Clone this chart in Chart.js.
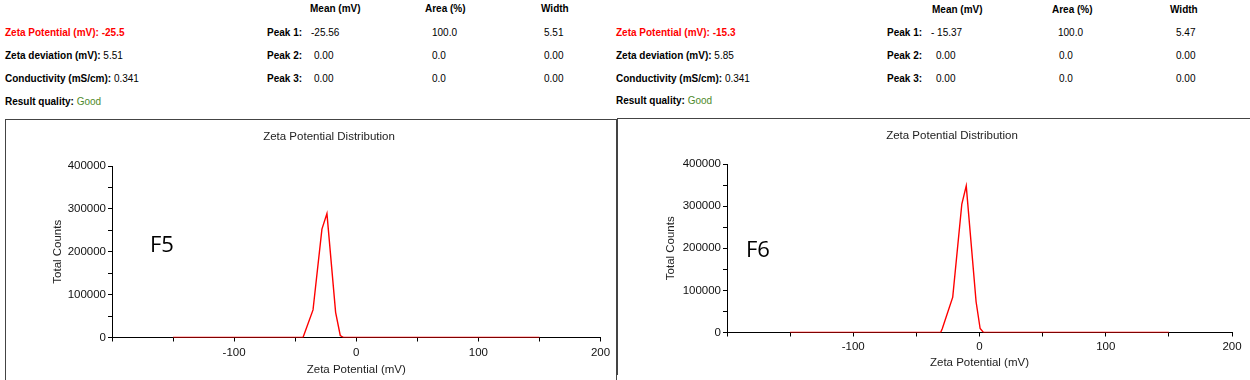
<!DOCTYPE html>
<html><head><meta charset="utf-8">
<script src="https://cdn.jsdelivr.net/npm/chart.js@4.4.1/dist/chart.umd.min.js"></script>
<style>
body{margin:0;width:1250px;height:380px;background:#fff;position:relative;overflow:hidden;font-family:"Liberation Sans",Arial,sans-serif;}
.t{position:absolute;font-size:10px;line-height:12px;white-space:nowrap;color:#000;transform:translateY(-50%);}
.b{font-weight:bold}
.red{color:#ff0000}
.good{color:#4f8a2b}
.panel{position:absolute;border-color:#444;border-style:solid;border-width:0;}
canvas{position:absolute}
.tag{position:absolute;font-family:"Open Sans",sans-serif;font-size:22px;color:#000;line-height:1;transform:translateY(-50%);}
</style></head>
<body>
<!-- left info block -->
<div class="t b" style="left:310px;top:9px">Mean (mV)</div>
<div class="t b" style="left:425px;top:9px">Area (%)</div>
<div class="t b" style="left:541px;top:9px">Width</div>
<div class="t b red" style="left:5px;top:33px">Zeta Potential (mV): -25.5</div>
<div class="t" style="left:5px;top:56px"><span class="b">Zeta deviation (mV):</span> 5.51</div>
<div class="t" style="left:5px;top:79px"><span class="b">Conductivity (mS/cm):</span> 0.341</div>
<div class="t" style="left:5px;top:102px"><span class="b">Result quality:</span> <span class="good">Good</span></div>
<div class="t b" style="left:267px;top:33px">Peak 1:</div>
<div class="t b" style="left:267px;top:56px">Peak 2:</div>
<div class="t b" style="left:267px;top:79px">Peak 3:</div>
<div class="t" style="left:311px;top:33px">-25.56</div>
<div class="t" style="left:314px;top:56px">0.00</div>
<div class="t" style="left:314px;top:79px">0.00</div>
<div class="t" style="left:432px;top:33px">100.0</div>
<div class="t" style="left:432px;top:56px">0.0</div>
<div class="t" style="left:432px;top:79px">0.0</div>
<div class="t" style="left:544px;top:33px">5.51</div>
<div class="t" style="left:544px;top:56px">0.00</div>
<div class="t" style="left:544px;top:79px">0.00</div>
<!-- right info block -->
<div class="t b" style="left:932px;top:10px">Mean (mV)</div>
<div class="t b" style="left:1052px;top:10px">Area (%)</div>
<div class="t b" style="left:1170px;top:10px">Width</div>
<div class="t b red" style="left:616px;top:33px">Zeta Potential (mV): -15.3</div>
<div class="t" style="left:616px;top:56px"><span class="b">Zeta deviation (mV):</span> 5.85</div>
<div class="t" style="left:616px;top:79px"><span class="b">Conductivity (mS/cm):</span> 0.341</div>
<div class="t" style="left:616px;top:101px"><span class="b">Result quality:</span> <span class="good">Good</span></div>
<div class="t b" style="left:887px;top:33px">Peak 1:</div>
<div class="t b" style="left:887px;top:56px">Peak 2:</div>
<div class="t b" style="left:887px;top:79px">Peak 3:</div>
<div class="t" style="left:931px;top:33px">- 15.37</div>
<div class="t" style="left:936px;top:56px">0.00</div>
<div class="t" style="left:936px;top:79px">0.00</div>
<div class="t" style="left:1058px;top:33px">100.0</div>
<div class="t" style="left:1059px;top:56px">0.0</div>
<div class="t" style="left:1059px;top:79px">0.0</div>
<div class="t" style="left:1176px;top:33px">5.47</div>
<div class="t" style="left:1176px;top:56px">0.00</div>
<div class="t" style="left:1176px;top:79px">0.00</div>

<div class="panel" style="left:5px;top:119px;width:610px;height:270px;border-top-width:1px;border-left-width:1px;border-right-width:1px;"></div>
<div class="panel" style="left:617px;top:118px;width:640px;height:256px;border-top-width:1px;border-left-width:1px;"></div>

<canvas id="c1" width="615" height="261" style="left:0;top:119px"></canvas>
<canvas id="c2" width="635" height="262" style="left:615px;top:118px"></canvas>

<div class="tag" style="left:150px;top:243px">F5</div>
<div class="tag" style="left:746px;top:248px">F6</div>

<script>
// ---- data ----
const f5Potential = [-150, -43.6, -35.4, -28.1, -24.0, -16.9, -13.1, -10.4, 150];
const f5Counts    = [0, 0, 64400, 252800, 289000, 58800, 4700, 0, 0];
const f6Potential = [-150, -30.8, -29.5, -21.2, -14.0, -10.5, -2.7, 0.5, 3.2, 150];
const f6Counts    = [0, 0, 9000, 84000, 305000, 348000, 73000, 9500, 0, 0];
const xTickLabels = [-100, 0, 100, 200];
const yTickLabels = [0, 100000, 200000, 300000, 400000];
const chartTitle = 'Zeta Potential Distribution';
const xTitle = 'Zeta Potential (mV)';
const yTitle = 'Total Counts';

const FONT = '"Liberation Sans", Arial, sans-serif';
const FS = 11.5;

const panelTitle = {
  id: 'panelTitle',
  afterDraw(chart, args, opts) {
    const ctx = chart.ctx;
    ctx.save();
    ctx.font = FS + 'px ' + FONT;
    ctx.fillStyle = '#222';
    ctx.textAlign = 'center';
    ctx.textBaseline = 'middle';
    ctx.fillText(opts.text, opts.x, opts.y);
    ctx.restore();
  }
};

function makeChart(id, xs, ys, g) {
  const pts = xs.map((x, i) => ({x: x, y: ys[i]}));
  return new Chart(document.getElementById(id), {
    type: 'line',
    data: {datasets: [{data: pts, borderColor: '#ff0000', borderWidth: 1.4, pointRadius: 0, tension: 0, fill: false}]},
    plugins: [panelTitle],
    options: {
      responsive: false, animation: false, devicePixelRatio: 1,
      layout: {padding: {left: 0, right: g.padRight, top: g.padTop, bottom: 0}},
      plugins: {
        legend: {display: false}, tooltip: {enabled: false}, title: {display: false},
        panelTitle: {text: chartTitle, x: g.titleX, y: g.titleY}
      },
      scales: {
        x: {
          type: 'linear', min: -200, max: 200,
          afterFit: s => { s.height = g.xHeight; },
          ticks: {stepSize: 50, autoSkip: false, maxRotation: 0, padding: g.xTickPad, color: '#111',
            font: {family: FONT, size: FS},
            callback: v => xTickLabels.includes(v) ? String(v) : ''},
          grid: {display: true, drawOnChartArea: false, drawTicks: true, tickLength: 4, color: '#000'},
          border: {display: true, color: '#000', width: 1},
          title: {display: true, text: xTitle, color: '#222', font: {family: FONT, size: FS},
            padding: {top: 0, bottom: g.xTitlePad}}
        },
        y: {
          type: 'linear', min: 0, max: 400000,
          afterFit: s => { s.width = g.yWidth; },
          ticks: {stepSize: 50000, autoSkip: false, padding: 2, color: '#111',
            font: {family: FONT, size: FS},
            callback: v => yTickLabels.includes(v) ? String(v) : ''},
          grid: {display: true, drawOnChartArea: false, drawTicks: true, tickLength: 4, color: '#000'},
          border: {display: true, color: '#000', width: 1},
          title: {display: true, text: yTitle, color: '#222', font: {family: FONT, size: FS},
            padding: {top: g.yTitlePad, bottom: 0}}
        }
      }
    }
  });
}

makeChart('c1', f5Potential, f5Counts, {
  padRight: 14, padTop: 47, yWidth: 112, xHeight: 42.5, titleX: 329, titleY: 18,
  xTickPad: 4.9, xTitlePad: 3.1, yTitlePad: 51.1
});
makeChart('c2', f6Potential, f6Counts, {
  padRight: 18, padTop: 46, yWidth: 112, xHeight: 47.5, titleX: 337, titleY: 17.7,
  xTickPad: 3.9, xTitlePad: 9.8, yTitlePad: 48.6
});
</script>
</body></html>
